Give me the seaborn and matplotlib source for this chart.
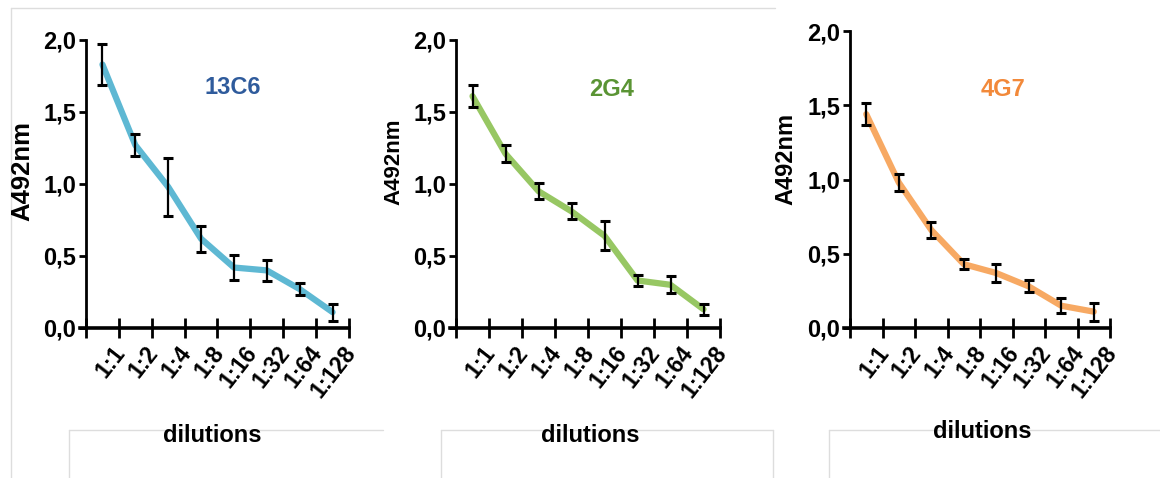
"""
ELISA titration curves of three clones (A492nm vs dilution).
Run: python plot.py  -> out.png
"""

import numpy as np
import pandas as pd
import matplotlib
matplotlib.use("Agg")
import matplotlib.pyplot as plt
from matplotlib.lines import Line2D
from matplotlib.transforms import ScaledTranslation
import seaborn as sns

# ---------- data ----------
dilutions = ["1:1", "1:2", "1:4", "1:8", "1:16", "1:32", "1:64", "1:128"]
clones = ["13C6", "2G4", "4G7"]

mean_13c6 = [1.83, 1.27, 0.98, 0.62, 0.42, 0.40, 0.27, 0.11]
err_13c6 = [0.14, 0.075, 0.20, 0.09, 0.09, 0.075, 0.04, 0.06]
mean_2g4 = [1.61, 1.21, 0.95, 0.81, 0.64, 0.33, 0.30, 0.13]
err_2g4 = [0.075, 0.06, 0.055, 0.055, 0.10, 0.04, 0.06, 0.04]
mean_4g7 = [1.44, 0.98, 0.66, 0.43, 0.37, 0.28, 0.15, 0.11]
err_4g7 = [0.075, 0.055, 0.055, 0.035, 0.06, 0.04, 0.05, 0.06]

y_ticks = [0.0, 0.5, 1.0, 1.5, 2.0]
y_ticklabels = ["0,0", "0,5", "1,0", "1,5", "2,0"]

line_colors = ["#4cb1cf", "#8cc152", "#f7a052"]
title_colors = ["#2f5b9c", "#5a9434", "#f2893a"]

df = pd.DataFrame({
    "clone": np.repeat(clones, len(dilutions)),
    "pos": np.tile(np.arange(len(dilutions)), len(clones)),
    "A492": mean_13c6 + mean_2g4 + mean_4g7,
    "err": err_13c6 + err_2g4 + err_4g7,
})

# ---------- layout (pixels) ----------
W, H = 1160, 478
# y-spine x, last x tick, top (2.0), bottom (0.0)
frames = [(86, 349, 40, 328), (456, 720, 40, 328), (850, 1110, 31, 328)]
ylabel_pos = [(22, 171), (394, 162), (786, 159)]
ylabel_size = [18.5, 16, 17]
title_pos = [(233, 88), (612, 90), (1003, 90)]
xlabel_pos = [(212, 436), (590, 435), (982, 432)]

sns.set_theme(style="white")
plt.rcParams["font.family"] = ["Liberation Sans", "DejaVu Sans"]
plt.rcParams["text.color"] = "black"
plt.rcParams["xtick.color"] = "black"
plt.rcParams["ytick.color"] = "black"

fig = plt.figure(figsize=(W / 100, H / 100), dpi=100)
label_shift = ScaledTranslation(-7 / 100, -2 / 100, fig.dpi_scale_trans)

x_lo, x_hi = -0.68, 7.55
for i, clone in enumerate(clones):
    x0, x1, yt, yb = frames[i]
    unit = (x1 - x0) / 8
    left = x0 + (x_lo + 0.5) * unit
    right = x0 + (x_hi + 0.5) * unit
    ax = fig.add_axes([left / W, 1 - yb / H, (right - left) / W, (yb - yt) / H])

    sub = df[df["clone"] == clone]
    sns.lineplot(data=sub, x="pos", y="A492", ax=ax, color=line_colors[i],
                 lw=4.5, alpha=0.9, clip_on=False, zorder=2)
    ax.errorbar(sub["pos"], sub["A492"], yerr=sub["err"], fmt="none",
                ecolor="black", elinewidth=1.6, capsize=3.5, capthick=2.2,
                clip_on=False, zorder=3)

    ax.set_xlim(x_lo, x_hi)
    ax.set_ylim(0, 2.0)
    ax.set_xlabel("")
    ax.set_ylabel("")

    for s in ["top", "right"]:
        ax.spines[s].set_visible(False)
    ax.spines["left"].set_position(("data", -0.5))
    ax.spines["left"].set_linewidth(2)
    ax.spines["left"].set_color("black")
    ax.spines["bottom"].set_linewidth(2.6)
    ax.spines["bottom"].set_color("black")
    ax.spines["bottom"].set_bounds(x_lo, 7.5)

    ax.set_yticks(y_ticks)
    ax.set_yticklabels(y_ticklabels, fontsize=17, fontweight="bold")
    ax.tick_params(axis="y", direction="out", length=5, width=2, pad=2,
                   left=True)

    ax.set_xticks(np.arange(-0.5, 8))
    ax.set_xticklabels([""] + dilutions, fontsize=16.5, fontweight="bold",
                       rotation=52, ha="right", va="top", rotation_mode="anchor")
    ax.tick_params(axis="x", direction="inout", length=15, width=2, pad=1,
                   bottom=True)
    for lab in ax.get_xticklabels():
        lab.set_transform(lab.get_transform() + label_shift)

    fig.text(ylabel_pos[i][0] / W, 1 - ylabel_pos[i][1] / H, "A492nm",
             rotation=90, ha="center", va="center", fontsize=ylabel_size[i],
             fontweight="bold")
    fig.text(title_pos[i][0] / W, 1 - title_pos[i][1] / H, clone,
             ha="center", va="center", fontsize=17, fontweight="bold",
             color=title_colors[i])
    fig.text(xlabel_pos[i][0] / W, 1 - xlabel_pos[i][1] / H, "dilutions",
             ha="center", va="center", fontsize=17, fontweight="bold")

# faint frame lines from the original figure panels
gray = "#dddddd"
segments = [
    ((11, 775), (8, 8)), ((11, 11), (8, 478)),
    ((69, 383), (430, 430)), ((69, 69), (430, 478)),
    ((441, 773), (430, 430)), ((441, 441), (430, 478)), ((773, 773), (430, 478)),
    ((829, 1160), (430, 430)), ((829, 829), (430, 478)),
]
for xs, ys in segments:
    fig.add_artist(Line2D([x / W for x in xs], [1 - y / H for y in ys],
                          transform=fig.transFigure, color=gray, lw=1))

fig.savefig("out.png", dpi=100)
